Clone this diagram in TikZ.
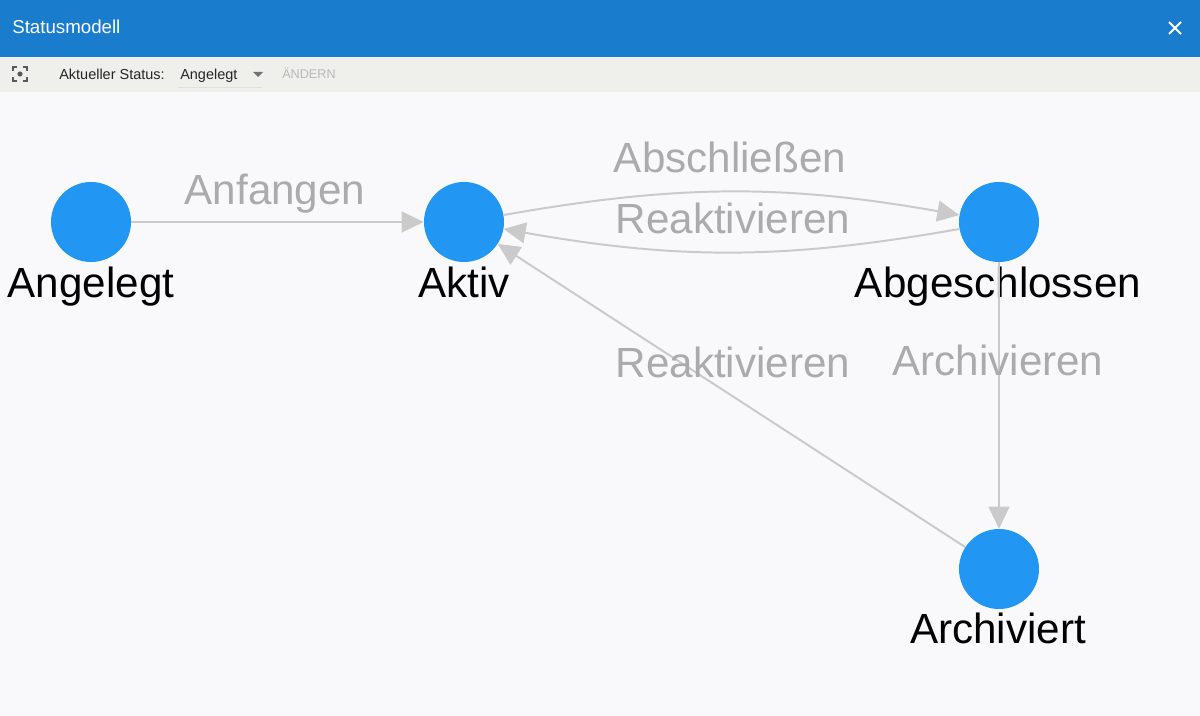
\documentclass[tikz,border=0pt]{standalone}
\usepackage{fontspec}
\setmainfont{Liberation Sans}
\usetikzlibrary{positioning}
\usetikzlibrary{arrows.meta}

\definecolor{headerblue}{HTML}{1A7CCD}
\definecolor{toolbargray}{HTML}{EFEFEC}
\definecolor{canvasgray}{HTML}{F9F9FB}
\definecolor{stateblue}{HTML}{2196F3}
\definecolor{edgegray}{HTML}{CACACA}
\definecolor{labelgray}{HTML}{ABABAB}

\tikzset{
  state/.style={circle,fill=stateblue,minimum size=20mm,inner sep=0pt},
  statename/.style={anchor=base,font=\fontsize{30}{36}\selectfont,text=black,inner sep=0pt},
  translabel/.style={anchor=base,font=\fontsize{30}{36}\selectfont,text=labelgray,inner sep=0pt},
  trans/.style={-{Triangle[length=5.5mm,width=5.2mm]},color=edgegray,line width=1.4pt},
  toolbartext/.style={anchor=base west,font=\fontsize{10.3}{12}\selectfont,inner sep=0pt},
}

\begin{document}
\begin{tikzpicture}[x=0.25mm,y=-0.25mm]
  \useasboundingbox (0,0) rectangle (1200,716);
  \fill[canvasgray] (0,0) rectangle (1200,716);

  % window header and toolbar
  \fill[headerblue] (0,0) rectangle (1200,57);
  \fill[toolbargray] (0,58) rectangle (1200,92);
  \node (title) [anchor=base west,font=\fontsize{13.3}{16}\selectfont,text=white,inner sep=0pt] at (12,34) {Statusmodell};
  \coordinate (closeC) at (1175,28);
  \draw[white,line width=1.4pt] ([shift={(-6,-6)}]closeC) -- ([shift={(6,6)}]closeC)
    ([shift={(-6,6)}]closeC) -- ([shift={(6,-6)}]closeC);

  \coordinate (focusC) at (20,74);
  \draw[black!65,line width=1pt]
    ([shift={(-7,-3)}]focusC) -- ++(0,-4) -- ++(4,0)
    ([shift={(3,-7)}]focusC) -- ++(4,0) -- ++(0,4)
    ([shift={(7,3)}]focusC) -- ++(0,4) -- ++(-4,0)
    ([shift={(-3,7)}]focusC) -- ++(-4,0) -- ++(0,-4);
  \fill[black!65] (focusC) circle (2.6);

  \node (statusCaption) [toolbartext,text=black!85] at (59,80) {Aktueller Status:};
  \node (statusValue) [toolbartext,text=black!85] at (180,80) {Angelegt};
  \fill[black!55] (253,72) -- (263,72) -- (258,77) -- cycle;
  \draw[black!12,line width=0.6pt] (178,87) -- (262,87);
  \node (changeButton) [toolbartext,font=\fontsize{9}{11}\selectfont,text=black!28] at (282,79) {ÄNDERN};

  % states
  \node (angelegt)      [state] at (91,222)  {};
  \node (aktiv)         [state] at (464,222) {};
  \node (abgeschlossen) [state] at (999,222) {};
  \node (archiviert)    [state] at (999,569) {};

  \node (angelegtName)      [statename] at (91,297)  {Angelegt};
  \node (aktivName)         [statename] at (464,297) {Aktiv};
  \node (abgeschlossenName) [statename] at (998,297) {Abgeschlossen};
  \node (archiviertName)    [statename] at (998,643) {Archiviert};

  % transitions
  \path[trans]
    (angelegt) edge (aktiv)
    (aktiv) edge [bend left=10] (abgeschlossen)
    (abgeschlossen) edge [bend left=10] (aktiv)
    (abgeschlossen) edge (archiviert)
    (archiviert) edge (aktiv);

  \node (anfangenLabel)      [translabel] at (275,204) {Anfangen};
  \node (abschliessenLabel)  [translabel] at (730,172) {Abschließen};
  \node (reaktivierenLabelA) [translabel] at (733,233) {Reaktivieren};
  \node (archivierenLabel)   [translabel] at (998,375) {Archivieren};
  \node (reaktivierenLabelB) [translabel] at (733,377) {Reaktivieren};
\end{tikzpicture}
\end{document}
